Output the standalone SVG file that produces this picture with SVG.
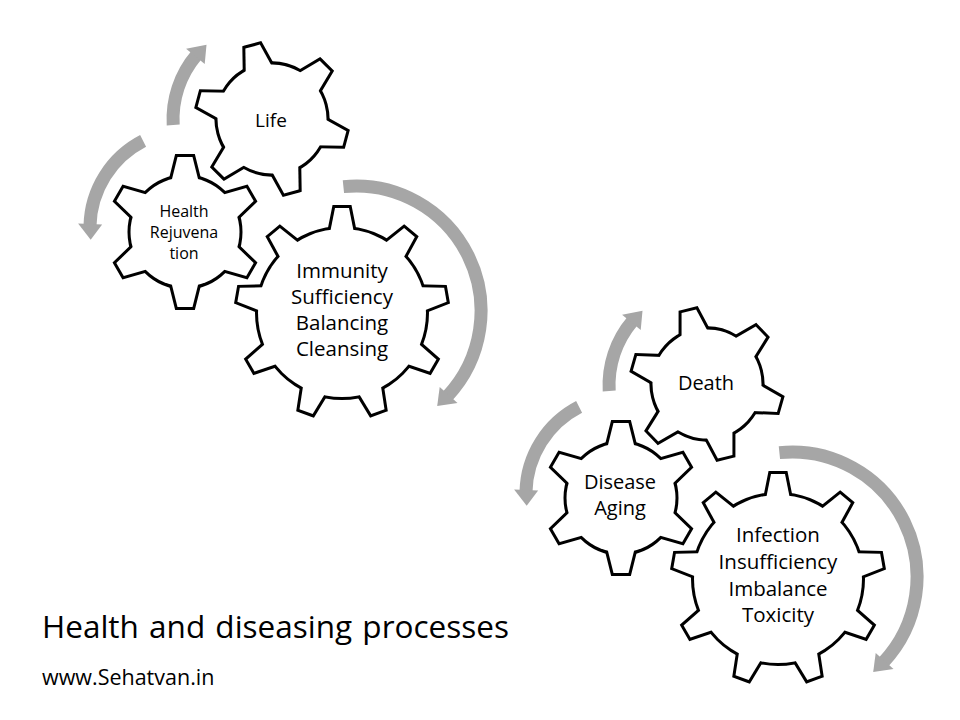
<svg xmlns="http://www.w3.org/2000/svg" xmlns:xlink="http://www.w3.org/1999/xlink" width="960" height="720" viewBox="0 0 960 720">
<style>
.gs{fill:#000;stroke:#000;stroke-width:6;stroke-linejoin:miter}
.gf{fill:#fff;stroke:none}
.arc{fill:none;stroke:#A6A6A6;stroke-width:13}
.head{fill:#A6A6A6}
text{font-family:"Open Sans","Liberation Sans",sans-serif;fill:#000;text-anchor:middle}
.t20{font-size:20.5px}
.t16{font-size:16px}
.left{text-anchor:start}
</style>
<defs>
<polygon id="t6" points="-7.5,-75 7.5,-75 15,-45 -15,-45"/>
<g id="gear6">
<circle r="54.5"/>
<use href="#t6"/><use href="#t6" transform="rotate(60)"/><use href="#t6" transform="rotate(120)"/>
<use href="#t6" transform="rotate(180)"/><use href="#t6" transform="rotate(240)"/><use href="#t6" transform="rotate(300)"/>
</g>
<polygon id="t9" points="-7,-105 7,-105 13.6,-72 -13.6,-72"/>
<g id="gear9">
<circle r="84"/>
<use href="#t9"/><use href="#t9" transform="rotate(40)"/><use href="#t9" transform="rotate(80)"/>
<use href="#t9" transform="rotate(120)"/><use href="#t9" transform="rotate(160)"/><use href="#t9" transform="rotate(200)"/>
<use href="#t9" transform="rotate(240)"/><use href="#t9" transform="rotate(280)"/><use href="#t9" transform="rotate(320)"/>
</g>
<g id="arrows">
<path class="arc" d="M173.2,125.0 A99,99 0 0 1 196.5,55.0"/>
<polygon class="head" points="186.1,48.7 204.7,63.9 206.5,44.7"/>
<path class="arc" d="M143.1,140.9 A98,98 0 0 0 90.0,225.6"/>
<polygon class="head" points="78.1,223.4 102.1,224.4 90.7,239.8"/>
<path class="arc" d="M343.4,186.6 A125,125 0 0 1 447.1,396.6"/>
<polygon class="head" points="439.7,386.9 457.5,403.0 437.2,406.1"/>
</g>
</defs>
<g id="connectors">
<use href="#arrows"/>
<use href="#arrows" transform="translate(436,266)"/>
</g>
<g id="health">
<g transform="translate(185,232)"><use href="#gear6" class="gs"/><use href="#gear6" class="gf"/></g>
<text class="t16" x="184" y="217">Health</text>
<text class="t16" x="184" y="238">Rejuvena</text>
<text class="t16" x="184" y="259">tion</text>
</g>
<g id="life">
<g transform="translate(272,119) rotate(-15)"><use href="#gear6" class="gs"/><use href="#gear6" class="gf"/></g>
<text style="font-size:19px" x="271" y="127">Life</text>
</g>
<g id="immunity">
<g transform="translate(342,313)"><use href="#gear9" class="gs"/><use href="#gear9" class="gf"/></g>
<text class="t20" x="342" y="278">Immunity</text>
<text class="t20" x="342" y="304">Sufficiency</text>
<text class="t20" x="342" y="330">Balancing</text>
<text class="t20" x="342" y="356">Cleansing</text>
</g>
<g id="disease">
<g transform="translate(621,498)"><use href="#gear6" class="gs"/><use href="#gear6" class="gf"/></g>
<text style="font-size:20px" x="620" y="489">Disease</text>
<text style="font-size:20px" x="620" y="515">Aging</text>
</g>
<g id="death">
<g transform="translate(707,384) rotate(-14)"><use href="#gear6" class="gs"/><use href="#gear6" class="gf"/></g>
<text style="font-size:20px" x="706" y="390">Death</text>
</g>
<g id="infection">
<g transform="translate(778,579)"><use href="#gear9" class="gs"/><use href="#gear9" class="gf"/></g>
<text class="t20" x="778" y="542">Infection</text>
<text class="t20" x="778" y="569">Insufficiency</text>
<text class="t20" x="778" y="596">Imbalance</text>
<text class="t20" x="778" y="622">Toxicity</text>
</g>
<g id="labels">
<text class="left" style="font-size:31.5px;word-spacing:2px" x="42" y="638">Health and diseasing processes</text>
<text class="left" style="font-size:21.5px" x="42" y="685">www.Sehatvan.in</text>
</g>
</svg>
